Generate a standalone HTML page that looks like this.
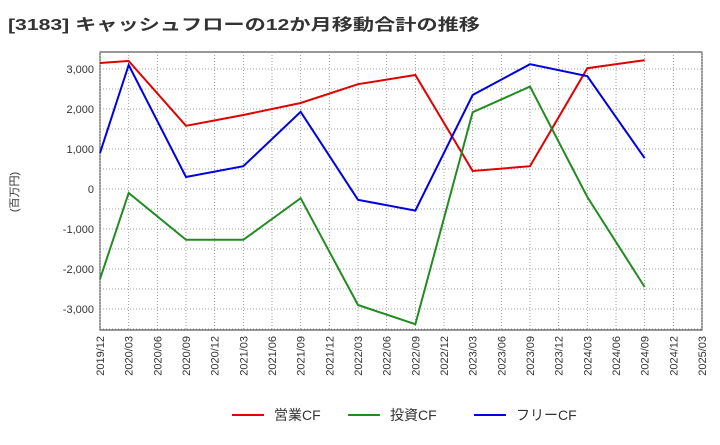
<!DOCTYPE html>
<html><head><meta charset="utf-8"><style>
body{margin:0;background:#fff;font-family:"Liberation Sans","Noto Sans CJK JP",sans-serif;}
</style></head><body>
<svg id="c" width="720" height="440" xmlns="http://www.w3.org/2000/svg">
<text x="8" y="30" font-size="16" font-weight="bold" fill="#333" textLength="472" lengthAdjust="spacingAndGlyphs" font-family="Liberation Sans, Noto Sans CJK JP, sans-serif">[3183]  キャッシュフローの12か月移動合計の推移</text>
<text transform="translate(18,192) rotate(-90)" font-size="11" fill="#333" text-anchor="middle" font-family="Liberation Sans, Noto Sans CJK JP, sans-serif">(百万円)</text>
<g id="grid"></g><g id="axes"></g><g id="series"></g><g id="legend"></g>
</svg>
<script>
const categories=["2019/12","2020/03","2020/06","2020/09","2020/12","2021/03","2021/06","2021/09","2021/12","2022/03","2022/06","2022/09","2022/12","2023/03","2023/06","2023/09","2023/12","2024/03","2024/06","2024/09","2024/12","2025/03"];
const yTicks=[3000,2000,1000,0,-1000,-2000,-3000];
const yTickLabels=["3,000","2,000","1,000","0","-1,000","-2,000","-3,000"];
const dataIdx=[0,1,3,5,7,9,11,13,15,17,19];
const opCF=[3150,3200,1580,1850,2150,2620,2850,450,570,3020,3220];
const invCF=[-2250,-100,-1270,-1270,-230,-2900,-3380,1920,2560,-200,-2450];
const freeCF=[900,3100,300,570,1930,-270,-540,2350,3120,2820,770];
const seriesNames=["営業CF","投資CF","フリーCF"];
const L=100,R=702,T=52,B=330,yMax=3425,yMin=-3525;
const NS="http://www.w3.org/2000/svg";
const X=i=>L+(R-L)*i/(categories.length-1);
const Y=v=>T+(yMax-v)/(yMax-yMin)*(B-T);
function mk(tag,attrs,parent){const e=document.createElementNS(NS,tag);for(const k in attrs)e.setAttribute(k,attrs[k]);document.getElementById(parent).appendChild(e);return e;}
mk('rect',{x:L,y:T,width:R-L,height:B-T,fill:'#fff',stroke:'#333','stroke-width':1},'grid');
categories.forEach((c,i)=>{
 const l=mk('line',{x1:X(i),x2:X(i),y1:T,y2:B,stroke:'#888','stroke-dasharray':'1,2','stroke-width':0.8},'grid');
 
 
 const t=mk('text',{transform:`translate(${X(i)+4},${B+6}) rotate(-90)`,'font-size':11,fill:'#333','text-anchor':'end'},'axes');
 t.textContent=c;
 
 
});
for(let v=-3500;v<=3000;v+=500){
 const l=mk('line',{x1:L,x2:R,y1:Y(v),y2:Y(v),stroke:'#888','stroke-dasharray':'1,2','stroke-width':0.8},'grid');
 
 
}
yTicks.forEach((v,i)=>{
 const t=mk('text',{x:L-6,y:Y(v)+4,'font-size':11,fill:'#333','text-anchor':'end'},'axes');
 t.textContent=yTickLabels[i];
 
 
});
const colors=["#e00000","#228b22","#0000e0"];
[opCF,invCF,freeCF].forEach((s,k)=>{
 const p=mk('polyline',{points:s.map((v,j)=>X(dataIdx[j])+','+Y(v)).join(' '),fill:'none',stroke:colors[k],'stroke-width':2},'series');
 
 
});
const lx=[232,348,474];
seriesNames.forEach((n,k)=>{
 const l=mk('line',{x1:lx[k],x2:lx[k]+32,y1:415,y2:415,stroke:colors[k],'stroke-width':2},'legend');
 
 
 const t=mk('text',{x:lx[k]+42,y:420,'font-size':14,fill:'#333'},'legend');
 t.textContent=n;
 
 
});
</script>
</body></html>
